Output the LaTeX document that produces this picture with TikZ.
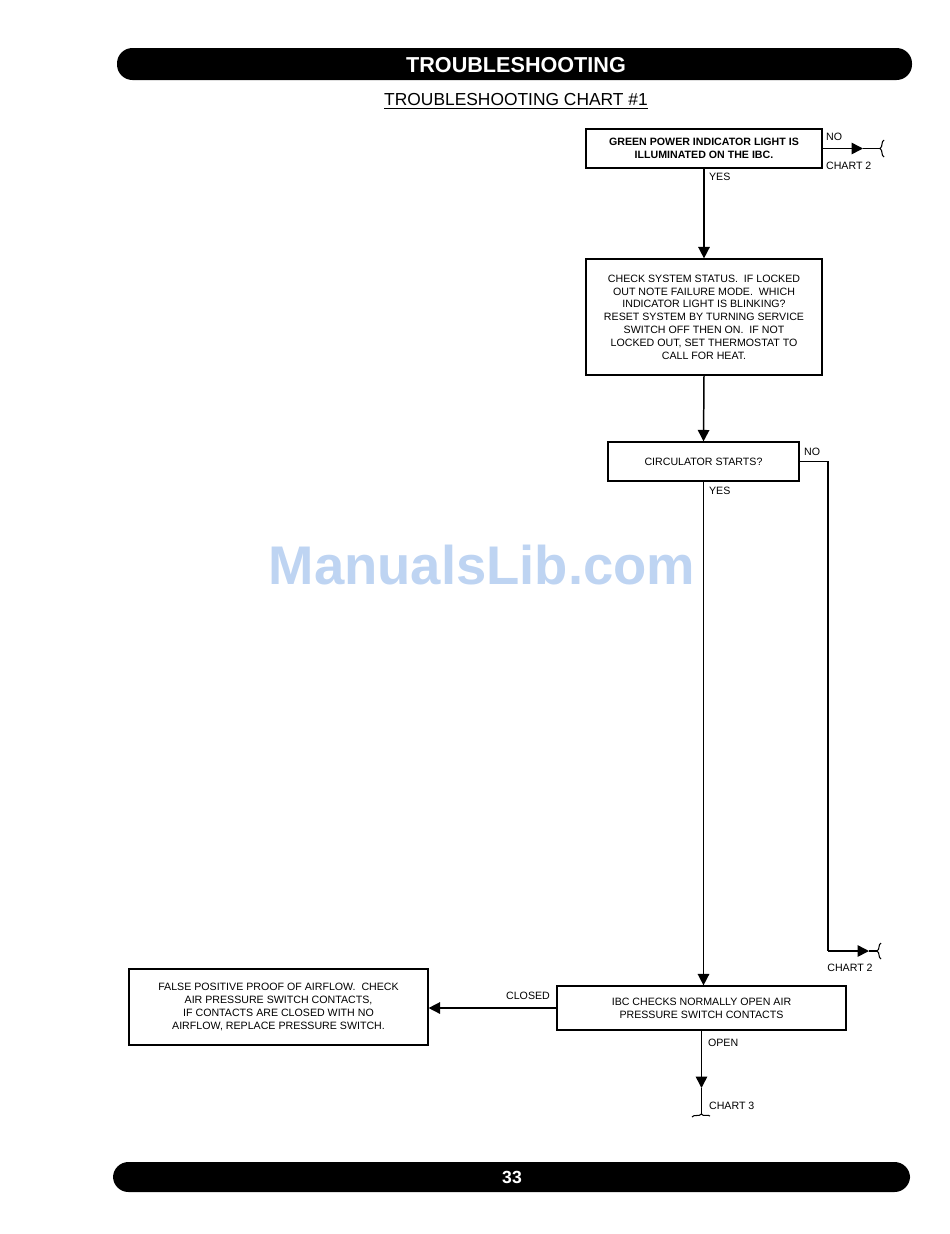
\documentclass[tikz,border=0pt]{standalone}
\usepackage{fontspec}
\setmainfont{Liberation Sans}
\usetikzlibrary{arrows.meta,positioning}
\definecolor{watermarkblue}{RGB}{190, 212, 242}

\begin{document}
\begin{tikzpicture}[x=0.02cm, y=-0.02cm, >={Triangle[length=6.5pt, width=6.5pt]},
    box/.style={draw, line width=0.7pt, align=center, inner sep=2pt, font=\fontsize{6.05}{7.3}\selectfont},
    flow/.style={line width=0.85pt},
    lbl/.style={font=\fontsize{6.05}{7}\selectfont, inner sep=1pt},
    bar/.style={fill=black, rounded corners=0.31cm}]

        \useasboundingbox (0, 0) rectangle (950, 1234);

        % Header
        \fill[bar] (117, 48) rectangle (912, 80);
        \node[text=white, font=\bfseries\fontsize{12.3}{14}\selectfont] (title) at (516, 65) {TROUBLESHOOTING};
        \node[font=\fontsize{9.9}{12}\selectfont] (chart) at (516, 101) {\underline{TROUBLESHOOTING CHART \#1}};

        % Watermark
        \node[text=watermarkblue, font=\bfseries\fontsize{31}{36}\selectfont] (wm) at (482, 565) {ManualsLib.com};

        % Boxes
        \node[box, font=\bfseries\fontsize{6.05}{7.3}\selectfont, minimum width=4.72cm, minimum height=0.78cm] (power) at (704, 148.5)
            {GREEN POWER INDICATOR LIGHT IS\\ILLUMINATED ON THE IBC.};
        \node[box, minimum width=4.72cm, minimum height=2.32cm] (status) at (704, 317)
            {CHECK SYSTEM STATUS.~ IF LOCKED\\OUT NOTE FAILURE MODE.~ WHICH\\INDICATOR LIGHT IS BLINKING?\\RESET SYSTEM BY TURNING SERVICE\\SWITCH OFF THEN ON.~ IF NOT\\LOCKED OUT, SET THERMOSTAT TO\\CALL FOR HEAT.};
        \node[box, minimum width=3.82cm, minimum height=0.78cm] (circ) at (703.5, 461.5) {CIRCULATOR STARTS?};
        \node[box, minimum width=5.78cm, minimum height=0.88cm] (ibc) at (701.5, 1008)
            {IBC CHECKS NORMALLY OPEN AIR\\PRESSURE SWITCH CONTACTS};
        \node[box, minimum width=5.98cm, minimum height=1.52cm] (false) at (278.5, 1007)
            {FALSE POSITIVE PROOF OF AIRFLOW.~ CHECK\\AIR PRESSURE SWITCH CONTACTS,\\IF CONTACTS ARE CLOSED WITH NO\\AIRFLOW, REPLACE PRESSURE SWITCH.};

        % Free ends
        \coordinate (noA) at (863, 148.5);
        \coordinate (noB) at (880, 148.5);
        \coordinate (noC) at (828, 951);
        \coordinate (noD) at (869, 951);
        \coordinate (noE) at (877, 951);
        \coordinate (openA) at (701.5, 1088);
        \coordinate (openB) at (701.5, 1114);

        % Main flow
        \draw[flow, ->] (power.south) -- (status.north);
        \draw[flow, ->] (status.south) -- (circ.north);
        \draw[flow, ->] (circ.south) -- (circ.south |- ibc.north);
        \draw[flow, ->] (ibc.west) -- (ibc.west -| false.east);
        \draw[flow, ->] (ibc.south) -- (openA);
        \draw[flow] (openA) -- (openB);

        % NO branches
        \draw[flow, ->] (power.east) -- (noA);
        \draw[flow] (noA) -- (noB);
        \draw[flow] (circ.east) -| (noC);
        \draw[flow, ->] (noC) -- (noD);
        \draw[flow] (noD) -- (noE);

        % Off-page ends
        \draw[line width=0.6pt] (884, 140) .. controls (881, 141) and (883, 147) .. (noB) .. controls (883, 150) and (881, 156) .. (884, 157);
        \draw[line width=0.6pt] (881, 943) .. controls (878, 944) and (880, 950) .. (noE) .. controls (880, 952) and (878, 958) .. (881, 959);
        \draw[line width=0.6pt] (692, 1117) .. controls (694, 1114) and (699, 1117) .. (openB) .. controls (703, 1117) and (708, 1114) .. (710, 1116);

        % Labels
        \node[lbl, anchor=west] (no1) at (824, 137) {NO};
        \node[lbl, anchor=west] (chartA) at (824, 166) {CHART 2};
        \node[lbl, anchor=west] (yes1) at (707, 177) {YES};
        \node[lbl, anchor=west] (no2) at (802, 452) {NO};
        \node[lbl, anchor=west] (yes2) at (707, 491) {YES};
        \node[lbl] (chartB) at (850, 968) {CHART 2};
        \node[lbl] (closed) at (528, 996) {CLOSED};
        \node[lbl, anchor=west] (open) at (706, 1043) {OPEN};
        \node[lbl, anchor=west] (chartC) at (707, 1106) {CHART 3};

        % Footer
        \fill[bar] (113, 1162) rectangle (910, 1192);
        \node[text=white, font=\bfseries\fontsize{10}{12}\selectfont] (page) at (512, 1177) {33};
    \end{tikzpicture}
\end{document}
